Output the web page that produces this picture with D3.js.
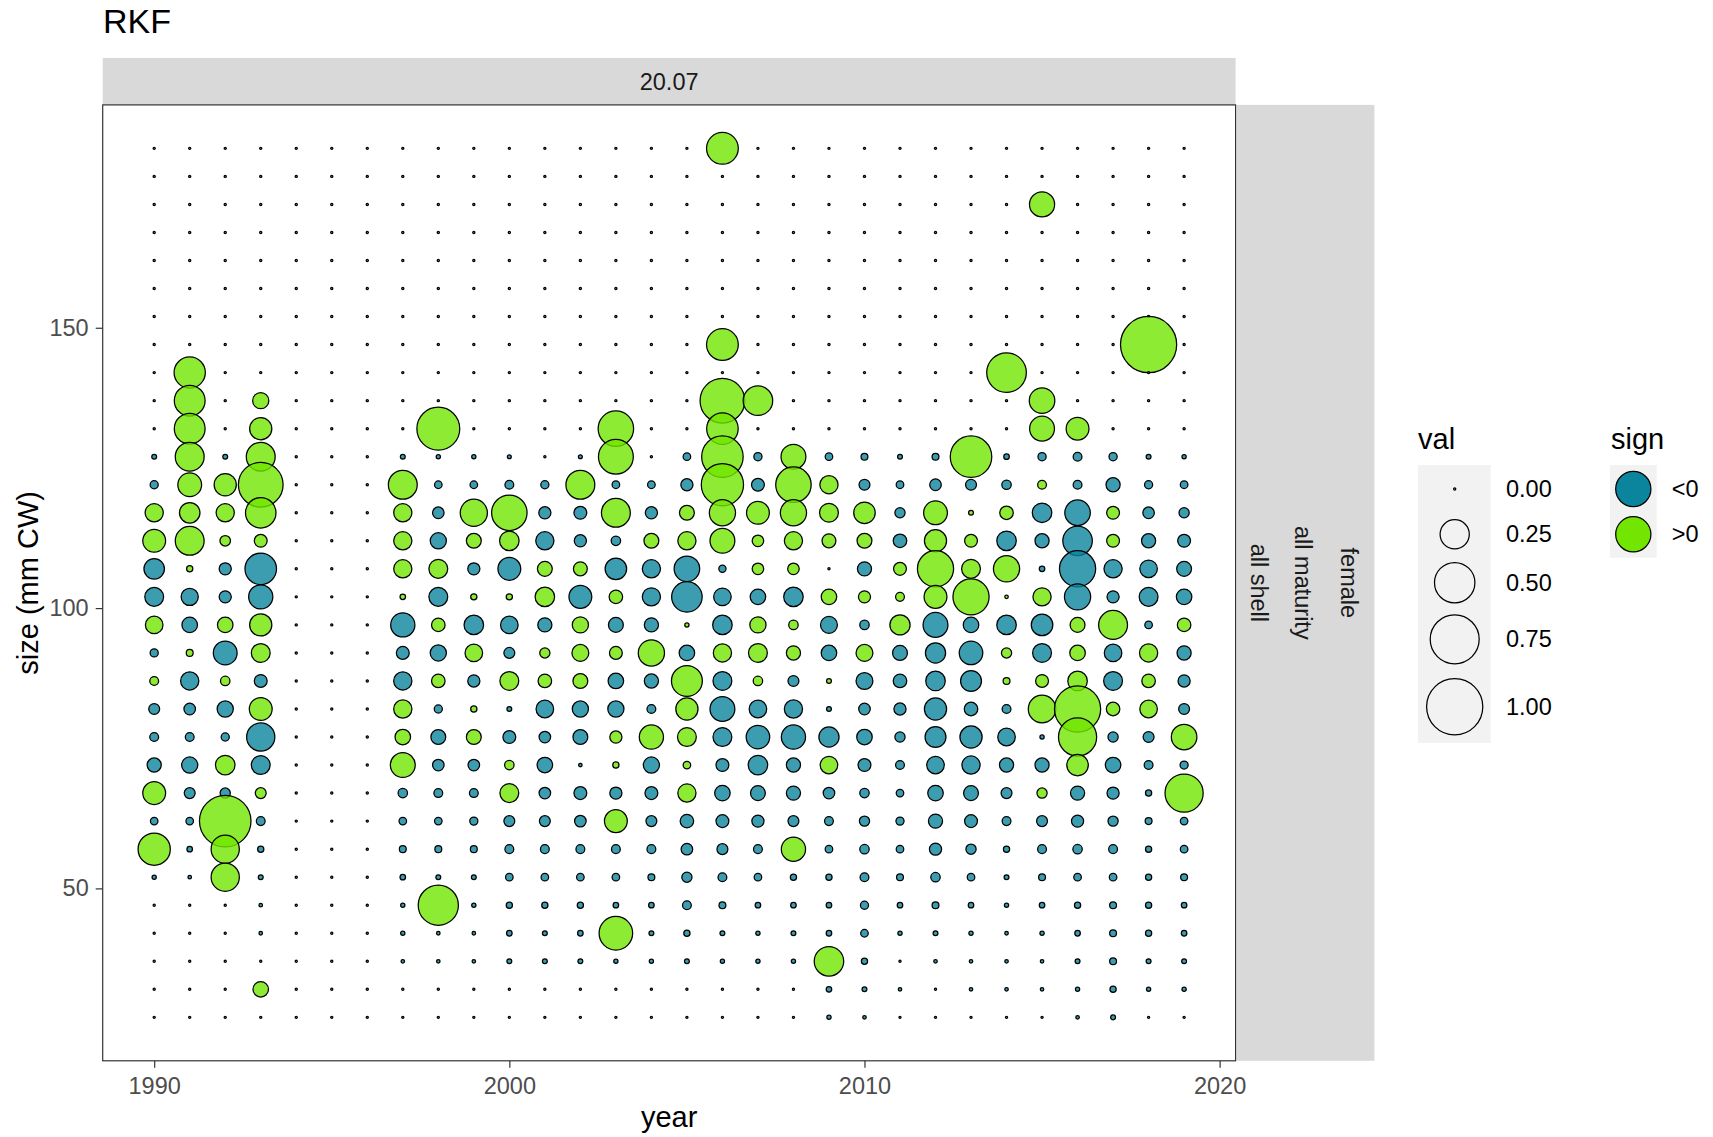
<!DOCTYPE html>
<html>
<head>
<meta charset="utf-8">
<script src="https://cdn.jsdelivr.net/npm/d3@7"></script>
<style>
  body { margin: 0; background: #fff; }
  svg { font-family: "Liberation Sans", Arial, sans-serif; }
</style>
</head>
<body>
<svg id="chart" width="1713" height="1137"></svg>
<script>
// years on the x axis, size bins (mm CW) on the y axis
const years = [1990, 1991, 1992, 1993, 1994, 1995, 1996, 1997, 1998, 1999,
  2000, 2001, 2002, 2003, 2004, 2005, 2006, 2007, 2008, 2009,
  2010, 2011, 2012, 2013, 2014, 2015, 2016, 2017, 2018, 2019];
const sizes = [182, 177, 172, 167, 162, 157, 152, 147, 142, 137, 132, 127, 122, 117, 112, 107,
  102, 97, 92, 87, 82, 77, 72, 67, 62, 57, 52, 47, 42, 37, 32, 27];

// signed values, one row per size bin (same order as sizes), one entry per year
const values = [
  [0,0,0,0,0,0,0,0,0,0, 0,0,0,0,0,0,0.30,0,0,0, 0,0,0,0,0,0,0,0,0,0],
  [0,0,0,0,0,0,0,0,0,0, 0,0,0,0,0,0,0,0,0,0, 0,0,0,0,0,0,0,0,0,0],
  [0,0,0,0,0,0,0,0,0,0, 0,0,0,0,0,0,0,0,0,0, 0,0,0,0,0,0.18,0,0,0,0],
  [0,0,0,0,0,0,0,0,0,0, 0,0,0,0,0,0,0,0,0,0, 0,0,0,0,0,0,0,0,0,0],
  [0,0,0,0,0,0,0,0,0,0, 0,0,0,0,0,0,0,0,0,0, 0,0,0,0,0,0,0,0,0,0],
  [0,0,0,0,0,0,0,0,0,0, 0,0,0,0,0,0,0,0,0,0, 0,0,0,0,0,0,0,0,0,0],
  [0,0,0,0,0,0,0,0,0,0, 0,0,0,0,0,0,0,0,0,0, 0,0,0,0,0,0,0,0,0,0],
  [0,0,0,0,0,0,0,0,0,0, 0,0,0,0,0,0,0.30,0,0,0, 0,0,0,0,0,0,0,0,1.0,0],
  [0,0.29,0,0,0,0,0,0,0,0, 0,0,0,0,0,0,0,0,0,0, 0,0,0,0,0.48,0,0,0,0,0],
  [0,0.28,0,0.067,0,0,0,0,0,0, 0,0,0,0,0,0,0.62,0.256,0,0, 0,0,0,0,0,0.187,0,0,0,0],
  [0,0.28,0,0.137,0,0,0,0,0.567,0, 0,0,0,0.38,0,0,0.295,0,0,0, 0,0,0,0,0,0.176,0.146,0,0,0],
  [-0.0024,0.244,-0.0024,0.244,0,0,0,-0.0024,-0.0014,-0.0014, -0.001,0,-0.001,0.366,0,-0.0098,0.53,-0.0123,0.176,-0.0098, -0.0075,-0.0024,-0.0075,0.53,-0.0038,-0.0123,-0.015,-0.0123,-0.0024,-0.0014],
  [-0.012,0.16,0.137,0.62,0,0,0,0.244,-0.0098,-0.0098, -0.015,-0.012,0.244,-0.01,-0.01,-0.034,0.55,-0.039,0.38,0.088, -0.026,-0.01,-0.03,-0.026,-0.018,0.015,-0.015,-0.049,-0.012,-0.01],
  [0.088,0.115,0.088,0.275,0,0,0,0.088,-0.03,0.214, 0.38,-0.034,-0.039,0.244,-0.034,0.055,0.198,0.146,0.198,0.095, 0.128,-0.022,0.16,0.0024,0.044,-0.103,-0.187,0.039,-0.03,-0.022],
  [0.146,0.244,0.024,0.039,0,0,0,0.088,-0.067,0.055, 0.103,-0.088,-0.034,-0.018,0.055,0.088,0.176,0.03,0.088,0.047, 0.055,-0.044,0.137,0.039,-0.103,-0.049,-0.256,0.039,-0.049,-0.039],
  [-0.115,0.0055,-0.034,-0.295,0,0,0,0.088,0.095,-0.034, -0.146,0.055,0.047,-0.128,-0.088,-0.187,-0.0086,0.03,0.03,0, -0.049,0.039,0.396,0.095,0.198,-0.0038,-0.396,-0.088,-0.081,-0.055],
  [-0.095,-0.077,-0.034,-0.166,0,0,0,0.0038,-0.095,0.0055, 0.0055,0.103,-0.146,0.044,-0.088,-0.275,-0.081,-0.061,-0.103,0.061, 0.034,0.015,0.146,0.396,0.0006,0.088,-0.198,-0.034,-0.095,-0.061],
  [0.081,-0.061,0.061,0.137,0,0,0,-0.166,0.044,-0.103, -0.081,-0.049,0.067,-0.055,-0.049,0.0014,-0.103,0.067,0.018,-0.074, -0.018,0.111,-0.176,-0.061,-0.103,-0.128,0.055,0.244,-0.0098,0.044],
  [-0.012,0.0075,-0.16,0.095,0,0,0,-0.039,-0.067,0.081, -0.026,0.022,0.074,0.039,0.198,-0.061,0.088,0.095,0.049,-0.061, 0.074,-0.055,-0.111,-0.156,0.022,-0.095,0.061,-0.081,0.088,-0.049],
  [0.015,-0.088,0.018,-0.039,0,0,0,-0.088,0.044,-0.034, 0.095,0.044,0.055,-0.061,-0.049,0.282,-0.095,0.018,-0.026,0.0024, -0.074,-0.044,-0.103,-0.12,0.0075,0.039,0.103,-0.095,0.044,-0.034],
  [-0.026,-0.03,-0.067,0.146,0,0,0,0.088,-0.012,0.0055, -0.0024,-0.081,-0.067,-0.067,-0.015,0.137,-0.176,-0.081,-0.088,-0.0024, -0.03,-0.034,-0.137,-0.044,-0.015,0.22,0.664,0.044,0.081,-0.026],
  [-0.015,-0.015,-0.012,-0.232,0,0,0,0.061,-0.055,0.055, -0.039,-0.03,-0.055,0.034,0.166,0.095,-0.095,-0.156,-0.166,-0.111, -0.061,-0.022,-0.12,-0.137,-0.081,-0.0014,0.444,-0.022,-0.026,0.187],
  [-0.049,-0.067,0.103,-0.095,0,0,0,0.176,-0.03,-0.03, 0.018,-0.061,-0.0006,0.0055,-0.067,0.0098,-0.039,-0.103,-0.049,0.081, -0.039,-0.015,-0.081,-0.088,-0.049,-0.049,0.128,-0.061,-0.015,-0.012],
  [0.146,-0.026,-0.022,0.026,0,0,0,-0.018,-0.015,-0.015, 0.095,-0.03,-0.039,-0.034,-0.039,0.088,-0.061,-0.055,-0.049,-0.03, -0.018,-0.0098,-0.061,-0.055,-0.026,0.022,-0.049,-0.034,-0.0055,0.444],
  [-0.0098,-0.0098,0.835,-0.015,0,0,0,-0.0098,-0.0098,-0.012, -0.026,-0.026,-0.03,0.146,-0.026,-0.044,-0.039,-0.034,-0.026,-0.015, -0.022,-0.012,-0.049,-0.039,-0.015,-0.026,-0.034,-0.022,-0.0075,-0.0098],
  [0.309,-0.0038,0.232,-0.0055,0,0,0,-0.0075,-0.0075,-0.0075, -0.015,-0.015,-0.015,-0.015,-0.015,-0.03,-0.026,-0.015,0.166,-0.0098, -0.018,-0.0098,-0.034,-0.022,-0.0055,-0.015,-0.018,-0.015,-0.0055,-0.0098],
  [-0.0014,-0.0006,0.232,-0.0024,0,0,0,-0.0038,-0.0024,-0.0024, -0.0098,-0.0098,-0.0098,-0.0098,-0.0075,-0.022,-0.015,-0.0098,-0.0055,-0.0055, -0.015,-0.0075,-0.018,-0.0098,-0.0024,-0.0075,-0.0098,-0.0098,-0.0055,-0.0075],
  [0,0,0,-0.0006,0,0,0,-0.0014,0.495,-0.0014, -0.0055,-0.0055,-0.0055,-0.0038,-0.0038,-0.015,-0.0075,-0.0038,-0.0038,-0.0038, -0.012,-0.0038,-0.0075,-0.0038,-0.0014,-0.0038,-0.0055,-0.0075,-0.0055,-0.0038],
  [0,0,0,-0.0006,0,0,0,-0.0014,-0.0006,-0.0006, -0.0038,-0.0024,-0.0038,0.337,-0.0024,-0.0055,-0.0024,-0.0014,-0.0024,-0.0038, -0.0098,-0.0014,-0.0024,-0.0014,-0.0006,-0.0014,-0.0038,-0.0075,-0.0055,-0.0038],
  [0,0,0,0,0,0,0,-0.0006,-0.0006,-0.0006, -0.0024,-0.0024,-0.0024,-0.0014,-0.0014,-0.0024,-0.0014,-0.0014,-0.0014,0.256, -0.0055,0,-0.0006,-0.0006,-0.0006,-0.0006,-0.0024,-0.0075,-0.0024,-0.0024],
  [0,0,0,0.061,0,0,0,0,0,0, 0,0,0,0,0,0,0,0,0,-0.0038, -0.0024,-0.0006,0,-0.0006,-0.0006,-0.0006,-0.0014,-0.0055,-0.0014,-0.0014],
  [0,0,0,0,0,0,0,0,0,0, 0,0,0,0,0,0,0,0,0,-0.0014, -0.0006,0,0,0,0,0,-0.0006,-0.0024,0,0]
];

const xTicks = [1990, 2000, 2010, 2020];
const yTicks = [50, 100, 150];
const sizeBreaks = [0, 0.25, 0.5, 0.75, 1];
const signLabels = ["<0", ">0"];
const signColors = ["#0B859E", "#72E600"];
const stripTop = "20.07";
const stripRight = ["all shell", "all maturity", "female"];

const svg = d3.select("#chart");
const panel = { left: 102.7, right: 1235.6, top: 104.9, bottom: 1060.8 };
const labelSize = 23.5, titleSize = 29;

const x = d3.scaleLinear().domain([1988.55, 2020.45]).range([panel.left, panel.right]);
const y = d3.scaleLinear().domain([19.25, 189.75]).range([panel.bottom, panel.top]);
const r = d3.scaleSqrt().domain([0, 1]).range([0, 27]);
const fill = d3.scaleOrdinal().domain(signLabels).range(signColors);

// flatten the matrix into points
const points = [];
years.forEach((yr, i) => {
  sizes.forEach((s, j) => {
    const v = values[j][i];
    points.push({ year: yr, size: s, val: Math.abs(v), sign: v < 0 ? "<0" : ">0" });
  });
});

// title
svg.append("text").attr("x", 103).attr("y", 33).attr("font-size", 34).attr("fill", "#000").text("RKF");

// strips
svg.append("rect").attr("x", panel.left).attr("y", 58).attr("width", panel.right - panel.left).attr("height", panel.top - 58).attr("fill", "#D9D9D9");
svg.append("text").attr("x", (panel.left + panel.right) / 2).attr("y", 81.5).attr("text-anchor", "middle")
  .attr("dominant-baseline", "central").attr("font-size", labelSize).attr("fill", "#1A1A1A").text(stripTop);
svg.append("rect").attr("x", panel.right + 1).attr("y", panel.top).attr("width", 1374.4 - panel.right - 1).attr("height", panel.bottom - panel.top).attr("fill", "#D9D9D9");
const stripX = [1258.6, 1303.4, 1349];
stripRight.forEach((t, i) => {
  svg.append("text").attr("transform", `translate(${stripX[i]},${(panel.top + panel.bottom) / 2}) rotate(90)`)
    .attr("text-anchor", "middle").attr("dominant-baseline", "central").attr("font-size", labelSize).attr("fill", "#1A1A1A").text(t);
});

// panel background
svg.append("rect").attr("x", panel.left).attr("y", panel.top).attr("width", panel.right - panel.left).attr("height", panel.bottom - panel.top).attr("fill", "#fff");

// points
svg.append("g").selectAll("circle").data(points).enter().append("circle")
  .attr("cx", (d) => x(d.year))
  .attr("cy", (d) => y(d.size))
  .attr("r", (d) => r(d.val) + 1.1)
  .attr("fill", (d) => fill(d.sign))
  .attr("fill-opacity", 0.8)
  .attr("stroke", "#000")
  .attr("stroke-width", 1.25);

// panel border
svg.append("rect").attr("x", panel.left).attr("y", panel.top).attr("width", panel.right - panel.left).attr("height", panel.bottom - panel.top)
  .attr("fill", "none").attr("stroke", "#333333").attr("stroke-width", 1.2);

// axes
const xAxis = svg.append("g").attr("transform", `translate(0,${panel.bottom})`)
  .call(d3.axisBottom(x).tickValues(xTicks).tickFormat(d3.format("d")).tickSize(7).tickPadding(10));
const yAxis = svg.append("g").attr("transform", `translate(${panel.left},0)`)
  .call(d3.axisLeft(y).tickValues(yTicks).tickSize(7).tickPadding(7));
[xAxis, yAxis].forEach((g) => {
  g.select(".domain").remove();
  g.selectAll("line").attr("stroke", "#333333").attr("stroke-width", 1.2);
  g.selectAll("text").attr("font-size", labelSize).attr("fill", "#4D4D4D").attr("font-family", "Liberation Sans, Arial, sans-serif");
});

// axis titles
svg.append("text").attr("x", (panel.left + panel.right) / 2).attr("y", 1127).attr("text-anchor", "middle")
  .attr("font-size", titleSize).attr("fill", "#000").text("year");
svg.append("text").attr("transform", `translate(37.5,${(panel.top + panel.bottom) / 2}) rotate(-90)`)
  .attr("text-anchor", "middle").attr("font-size", titleSize).attr("fill", "#000").text("size (mm CW)");

// legend: val
svg.append("text").attr("x", 1418).attr("y", 449).attr("font-size", titleSize).attr("fill", "#000").text("val");
svg.append("rect").attr("x", 1418).attr("y", 465).attr("width", 72.7).attr("height", 278).attr("fill", "#F2F2F2");
const sizeKeyY = [489, 534.3, 582.7, 639.3, 706.7];
sizeBreaks.forEach((b, i) => {
  svg.append("circle").attr("cx", 1454.7).attr("cy", sizeKeyY[i]).attr("r", r(b) + 1.1)
    .attr("fill", "none").attr("stroke", "#000").attr("stroke-width", 1.25);
  svg.append("text").attr("x", 1506).attr("y", sizeKeyY[i]).attr("dominant-baseline", "central")
    .attr("font-size", labelSize).attr("fill", "#000").text(d3.format(".2f")(b));
});

// legend: sign
svg.append("text").attr("x", 1611).attr("y", 449).attr("font-size", titleSize).attr("fill", "#000").text("sign");
svg.append("rect").attr("x", 1610).attr("y", 465).attr("width", 46.7).attr("height", 92.7).attr("fill", "#F2F2F2");
const signKeyY = [489, 534.3];
signLabels.forEach((s, i) => {
  svg.append("circle").attr("cx", 1633.3).attr("cy", signKeyY[i]).attr("r", 17.6)
    .attr("fill", fill(s)).attr("stroke", "#000").attr("stroke-width", 1.25);
  svg.append("text").attr("x", 1671.7).attr("y", signKeyY[i]).attr("dominant-baseline", "central")
    .attr("font-size", labelSize).attr("fill", "#000").text(s);
});
</script>
</body>
</html>
